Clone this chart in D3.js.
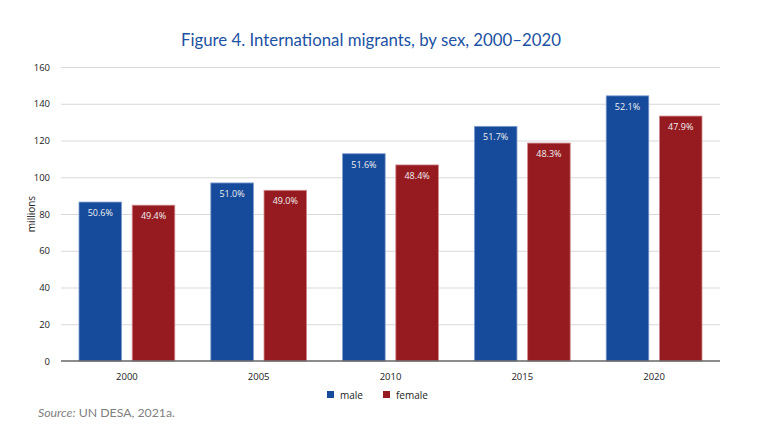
<!DOCTYPE html>
<html>
<head>
<meta charset="utf-8">
<script src="https://cdn.jsdelivr.net/npm/d3@7"></script>
<style>
  body { margin: 0; background: #fff; }
  svg { display: block; }
</style>
</head>
<body>
<div id="chart"></div>
<script>
const years = ["2000", "2005", "2010", "2015", "2020"];
const maleValues = [86.5, 96.9, 112.8, 127.7, 144.3];
const femaleValues = [84.8, 92.9, 106.7, 118.6, 133.3];
const malePct = ["50.6%", "51.0%", "51.6%", "51.7%", "52.1%"];
const femalePct = ["49.4%", "49.0%", "48.4%", "48.3%", "47.9%"];
const yTicks = [0, 20, 40, 60, 80, 100, 120, 140, 160];

const W = 763, H = 438;
const margin = {top: 67, right: 43, bottom: 77, left: 61},
    width = W - margin.left - margin.right,
    height = H - margin.top - margin.bottom;

const svg = d3.select("#chart")
    .append("svg")
    .attr("width", W)
    .attr("height", H);

svg.append("text")
    .attr("x", 371)
    .attr("y", 46)
    .attr("text-anchor", "middle")
    .style("font-family", "Lato, 'Open Sans', sans-serif")
    .style("font-size", "16.8px")
    .style("fill", "#1c52a3")
    .text("Figure 4. International migrants, by sex, 2000\u20132020");

const g = svg.append("g")
    .attr("transform", "translate(" + margin.left + "," + margin.top + ")");

const x = d3.scaleBand().domain(years).range([0, width]).paddingInner(0).paddingOuter(0);
const y = d3.scaleLinear().domain([0, 160]).range([height, 0]);
const sub = d3.scaleBand().domain(["male", "female"]).range([18, x.bandwidth() - 18]).paddingInner(0.2);

const colors = {male: "#164b9c", female: "#961b20"};
const strokes = {male: "#7f9ccd", female: "#d08a8c"};

// gridlines
g.selectAll(".grid")
    .data(yTicks.filter(d => d > 0))
    .enter().append("line")
    .attr("x1", 0)
    .attr("x2", width)
    .attr("y1", d => y(d) + 0.5)
    .attr("y2", d => y(d) + 0.5)
    .style("stroke", "#d9d9d9")
    .style("stroke-width", 1);

// y tick labels
g.selectAll(".ytick")
    .data(yTicks)
    .enter().append("text")
    .attr("x", -11)
    .attr("y", d => y(d) + 3.5)
    .attr("text-anchor", "end")
    .style("font-family", "'Open Sans', sans-serif")
    .style("font-size", "9.5px")
    .style("fill", "#222")
    .text(d => d);

g.append("text")
    .attr("transform", "translate(" + (-26) + "," + y(80) + ") rotate(-90)")
    .attr("text-anchor", "middle")
    .style("font-family", "'Open Sans', sans-serif")
    .style("font-size", "10px")
    .style("fill", "#222")
    .text("millions");

const rows = years.map((yr, i) => ({
    year: yr,
    bars: [
        {key: "male", value: maleValues[i], pct: malePct[i]},
        {key: "female", value: femaleValues[i], pct: femalePct[i]}
    ]
}));

const groups = g.selectAll(".group")
    .data(rows)
    .enter().append("g")
    .attr("transform", d => "translate(" + x(d.year) + ",0)");

groups.selectAll("rect")
    .data(d => d.bars)
    .enter().append("rect")
    .attr("x", d => sub(d.key))
    .attr("y", d => y(d.value))
    .attr("width", sub.bandwidth())
    .attr("height", d => height - y(d.value))
    .style("fill", d => colors[d.key])
    .style("stroke", d => strokes[d.key])
    .style("stroke-width", 0.8);

groups.selectAll(".pct")
    .data(d => d.bars)
    .enter().append("text")
    .attr("x", d => sub(d.key) + sub.bandwidth() / 2)
    .attr("y", d => y(d.value) + 14)
    .attr("text-anchor", "middle")
    .style("font-family", "'Open Sans', sans-serif")
    .style("font-size", "9px")
    .style("fill", "#f0f0f0")
    .text(d => d.pct);

// zero axis line
g.append("line")
    .attr("x1", 0)
    .attr("x2", width)
    .attr("y1", y(0))
    .attr("y2", y(0))
    .style("stroke", "#666")
    .style("stroke-width", 1.5);

g.selectAll(".xtick")
    .data(years)
    .enter().append("text")
    .attr("x", d => x(d) + x.bandwidth() / 2)
    .attr("y", height + 19)
    .attr("text-anchor", "middle")
    .style("font-family", "'Open Sans', sans-serif")
    .style("font-size", "9.5px")
    .style("fill", "#222")
    .text(d => d);

// legend
const legendItems = [{key: "male", x: 327}, {key: "female", x: 383}];
const legend = svg.selectAll(".legend")
    .data(legendItems)
    .enter().append("g")
    .attr("transform", d => "translate(" + d.x + ",391)");
legend.append("rect")
    .attr("width", 7)
    .attr("height", 7)
    .style("fill", d => colors[d.key]);
legend.append("text")
    .attr("x", 13)
    .attr("y", 7.5)
    .style("font-family", "'Open Sans', sans-serif")
    .style("font-size", "10px")
    .style("fill", "#222")
    .text(d => d.key);

// source
const src = svg.append("text")
    .attr("x", 38)
    .attr("y", 417)
    .style("font-family", "Lato, 'Open Sans', sans-serif")
    .style("font-size", "12.3px")
    .style("fill", "#808080");
src.append("tspan").style("font-style", "italic").text("Source:");
src.append("tspan").text(" UN DESA, 2021a.");
</script>
</body>
</html>
